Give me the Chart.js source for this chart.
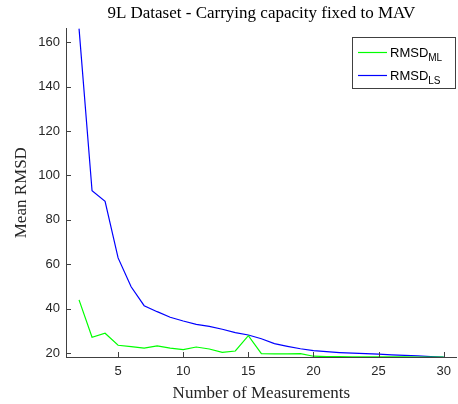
<!DOCTYPE html>
<html>
<head>
<meta charset="utf-8">
<script src="https://cdn.jsdelivr.net/npm/chart.js@4/dist/chart.umd.min.js"></script>
<style>
  body { margin: 0; background: #fff; }
  #wrap { width: 458px; height: 404px; }
</style>
</head>
<body>
<div id="wrap"><canvas id="myChart" width="458" height="404"></canvas></div>
<script>
// measurements 2..30
const measurements = [2, 3, 4, 5, 6, 7, 8, 9, 10, 11, 12, 13, 14, 15, 16, 17, 18, 19, 20,
    21, 22, 23, 24, 25, 26, 27, 28, 29, 30];
const rmsdML = [44.0, 27.2, 29.0, 23.6, 23.0, 22.3, 23.3, 22.3, 21.6, 22.8, 21.9, 20.4, 21.0, 27.9,
    19.8, 19.7, 19.7, 19.8, 18.65, 18.5, 18.45, 18.4, 18.4, 18.4, 18.35, 18.35, 18.3, 18.3, 18.3];
const rmsdLS = [166.2, 93.1, 88.4, 62.9, 49.9, 41.4, 38.7, 36.2, 34.5, 33.0, 32.1, 30.8, 29.3, 28.2,
    26.5, 24.3, 23.1, 22.0, 21.2, 20.7, 20.3, 20.0, 19.8, 19.55, 19.3, 19.0, 18.8, 18.5, 18.3];
const seriesNames = ['RMSD', 'RMSD'];
const seriesSubs = ['ML', 'LS'];
const xTicks = [5, 10, 15, 20, 25, 30];
const yTicks = [20, 40, 60, 80, 100, 120, 140, 160];

const axisColor = '#404040';
const tickFont = { family: 'Liberation Sans', size: 13 };
const serifFont = { family: 'Liberation Serif', size: 17, weight: 'normal' };

function toPoints(vals) {
    return measurements.map((m, i) => ({ x: m, y: vals[i] }));
}

// matlab style ticks pointing into the plot
const innerTicks = {
    id: 'innerTicks',
    afterDatasetsDraw(chart) {
        const { ctx, chartArea, scales } = chart;
        ctx.save();
        ctx.strokeStyle = axisColor;
        ctx.lineWidth = 1;
        ctx.beginPath();
        xTicks.forEach(v => {
            const px = Math.round(scales.x.getPixelForValue(v)) + 0.5;
            ctx.moveTo(px, chartArea.bottom);
            ctx.lineTo(px, chartArea.bottom - 5);
        });
        yTicks.forEach(v => {
            const py = Math.round(scales.y.getPixelForValue(v)) + 0.5;
            ctx.moveTo(chartArea.left, py);
            ctx.lineTo(chartArea.left + 5, py);
        });
        ctx.stroke();
        ctx.restore();
    }
};

// legend with subscripts
const subLegend = {
    id: 'subLegend',
    afterDraw(chart) {
        const ctx = chart.ctx;
        const bx = 352.5, by = 37.5, bw = 103, bh = 51;
        ctx.save();
        ctx.fillStyle = '#fff';
        ctx.fillRect(bx, by, bw, bh);
        ctx.strokeStyle = axisColor;
        ctx.lineWidth = 1;
        ctx.strokeRect(bx, by, bw, bh);
        chart.data.datasets.forEach((ds, i) => {
            const y = by + 15 + i * 23;
            ctx.strokeStyle = ds.borderColor;
            ctx.lineWidth = 1.2;
            ctx.beginPath();
            ctx.moveTo(358, y);
            ctx.lineTo(387, y);
            ctx.stroke();
            ctx.fillStyle = '#000';
            ctx.textBaseline = 'alphabetic';
            ctx.font = '13px "Liberation Sans"';
            ctx.fillText(seriesNames[i], 390, y + 4.5);
            const w = ctx.measureText(seriesNames[i]).width;
            ctx.font = '10px "Liberation Sans"';
            ctx.fillText(seriesSubs[i], 390 + w, y + 8.5);
        });
        ctx.restore();
    }
};

const ctx = document.getElementById('myChart').getContext('2d');

new Chart(ctx, {
    type: 'line',
    data: {
        datasets: [
            {
                label: 'RMSD_ML',
                data: toPoints(rmsdML),
                borderColor: '#00ff00',
                borderWidth: 1.2,
                pointRadius: 0,
                fill: false,
                tension: 0
            },
            {
                label: 'RMSD_LS',
                data: toPoints(rmsdLS),
                borderColor: '#0000ff',
                borderWidth: 1.2,
                pointRadius: 0,
                fill: false,
                tension: 0
            }
        ]
    },
    options: {
        responsive: false,
        animation: false,
        layout: { padding: 0 },
        plugins: {
            legend: { display: false },
            tooltip: { enabled: false },
            title: {
                display: true,
                fullSize: false,
                text: '9L Dataset - Carrying capacity fixed to MAV',
                color: '#000',
                font: serifFont,
                padding: { top: 3, bottom: 5 }
            }
        },
        scales: {
            x: {
                type: 'linear',
                min: 1,
                max: 31,
                afterBuildTicks: s => { s.ticks = xTicks.map(v => ({ value: v })); },
                afterFit: s => { s.height = 47; },
                grid: { drawOnChartArea: false, drawTicks: false },
                border: { display: true, color: axisColor, width: 1 },
                ticks: { color: '#262626', font: tickFont, padding: 7, maxRotation: 0 },
                title: {
                    display: true,
                    text: 'Number of Measurements',
                    color: '#262626',
                    font: serifFont,
                    padding: { top: 5, bottom: 0 }
                }
            },
            y: {
                type: 'linear',
                min: 18.3,
                max: 166.2,
                afterBuildTicks: s => { s.ticks = yTicks.map(v => ({ value: v })); },
                afterFit: s => { s.width = 66; },
                grid: { drawOnChartArea: false, drawTicks: false },
                border: { display: true, color: axisColor, width: 1 },
                ticks: { color: '#262626', font: tickFont, padding: 6 },
                title: {
                    display: true,
                    text: 'Mean RMSD',
                    color: '#262626',
                    font: serifFont,
                    padding: { top: 11, bottom: 0 }
                }
            }
        }
    },
    plugins: [innerTicks, subLegend]
});
</script>
</body>
</html>
